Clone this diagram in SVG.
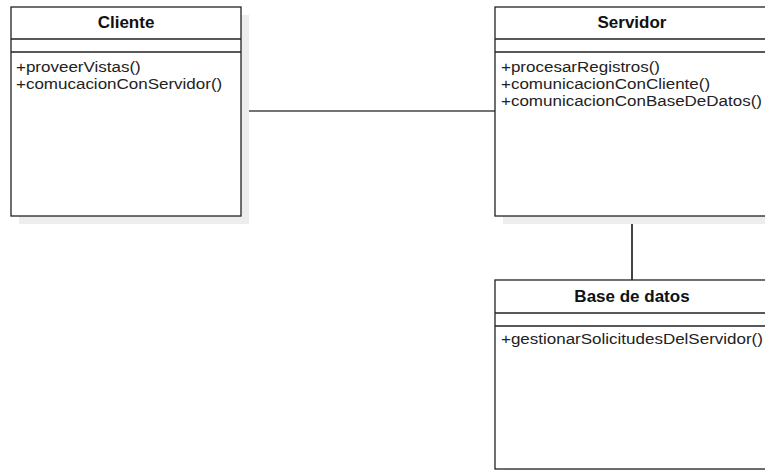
<svg xmlns="http://www.w3.org/2000/svg" width="765" height="470" viewBox="0 0 765 470">
<style>
.box{fill:#ffffff;stroke:#222222;stroke-width:1.3}
.shadow{fill:#ededed;stroke:none}
.div{stroke:#222222;stroke-width:1.3;fill:none}
.title{font-family:"Liberation Sans",Arial,sans-serif;font-weight:bold;font-size:17px;fill:#111111;text-anchor:middle}
.m{font-family:"Liberation Sans",Arial,sans-serif;font-size:15px;fill:#222222}
.conn{stroke:#444444;fill:none}
</style>
<rect width="765" height="470" fill="#ffffff"/>
<g id="connectors">
<line class="conn" x1="241" y1="111" x2="495" y2="111" stroke-width="1.3"/>
<line class="conn" x1="632" y1="216" x2="632" y2="280" stroke-width="2"/>
</g>
<g id="cliente">
<rect class="shadow" x="19" y="15" width="230" height="209"/>
<rect class="box" x="11" y="7" width="230" height="209"/>
<line class="div" x1="11" y1="39" x2="241" y2="39"/>
<line class="div" x1="11" y1="52" x2="241" y2="52"/>
<text class="title" x="126" y="28">Cliente</text>
<g transform="translate(16,0) scale(1.133,1)">
<text class="m" x="0" y="72">+proveerVistas()</text>
<text class="m" x="0" y="89">+comucacionConServidor()</text>
</g>
</g>
<g id="servidor">
<rect class="shadow" x="503" y="15" width="274" height="209"/>
<rect class="box" x="495" y="7" width="274" height="209"/>
<line class="div" x1="495" y1="39" x2="769" y2="39"/>
<line class="div" x1="495" y1="52" x2="769" y2="52"/>
<text class="title" x="632" y="28">Servidor</text>
<g transform="translate(501,0) scale(1.133,1)">
<text class="m" x="0" y="72">+procesarRegistros()</text>
<text class="m" x="0" y="89">+comunicacionConCliente()</text>
<text class="m" x="0" y="106">+comunicacionConBaseDeDatos()</text>
</g>
</g>
<g id="basededatos">
<rect class="shadow" x="503" y="288" width="274" height="189"/>
<rect class="box" x="495" y="280" width="274" height="189"/>
<line class="div" x1="495" y1="313" x2="769" y2="313"/>
<line class="div" x1="495" y1="326" x2="769" y2="326"/>
<text class="title" x="632" y="302">Base de datos</text>
<g transform="translate(501,0) scale(1.133,1)">
<text class="m" x="0" y="344">+gestionarSolicitudesDelServidor()</text>
</g>
</g>
</svg>
